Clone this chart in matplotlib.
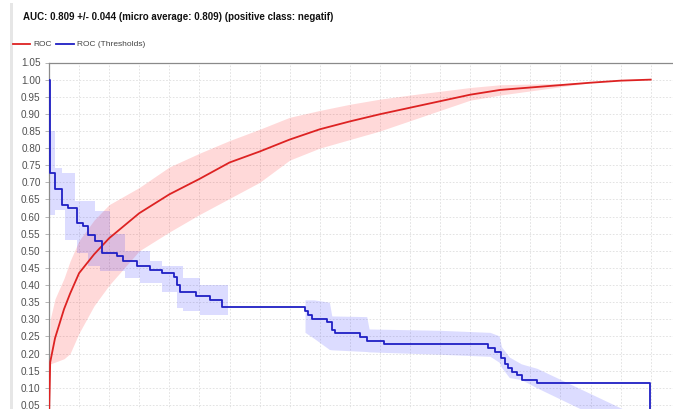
import numpy as np
import matplotlib
matplotlib.use("Agg")
import matplotlib.pyplot as plt
from matplotlib.patches import Rectangle

# ---- data ----
title = "AUC: 0.809 +/- 0.044 (micro average: 0.809) (positive class: negatif)"
legend_labels = ["ROC", "ROC (Thresholds)"]

roc_x = [0, 0.002, 0.01, 0.025, 0.035, 0.05, 0.075, 0.1, 0.15, 0.2, 0.25, 0.3, 0.35,
         0.4, 0.45, 0.5, 0.55, 0.6, 0.65, 0.7, 0.75, 0.8, 0.85, 0.9, 0.95, 1.0]
roc_y = [0, 0.175, 0.245, 0.33, 0.375, 0.435, 0.49, 0.537, 0.61, 0.665, 0.71, 0.758, 0.79,
         0.825, 0.855, 0.878, 0.899, 0.918, 0.937, 0.956, 0.97, 0.977, 0.984, 0.991, 0.997, 1.0]
roc_lo = [0, 0.17, 0.175, 0.185, 0.20, 0.26, 0.34, 0.40, 0.50, 0.555, 0.606, 0.653, 0.70,
          0.765, 0.80, 0.825, 0.85, 0.88, 0.91, 0.94, 0.955, 0.967, 0.979, 0.991, 0.997, 1.0]
roc_hi = [0, 0.30, 0.36, 0.42, 0.47, 0.53, 0.59, 0.635, 0.685, 0.745, 0.785, 0.822, 0.855,
          0.89, 0.91, 0.928, 0.943, 0.955, 0.966, 0.977, 0.985, 0.987, 0.989, 0.991, 0.997, 1.0]

thr_x = [0, 0.0017, 0.010, 0.021, 0.032, 0.046, 0.057, 0.065, 0.076, 0.088, 0.113, 0.123,
         0.146, 0.168, 0.187, 0.207, 0.212, 0.218, 0.245, 0.268, 0.287, 0.4255, 0.431,
         0.437, 0.4615, 0.470, 0.475, 0.517, 0.528, 0.556, 0.730, 0.741, 0.752, 0.758,
         0.763, 0.769, 0.777, 0.786, 0.811, 0.999, 1.0]
thr_y = [1.0, 0.728, 0.681, 0.635, 0.625, 0.582, 0.572, 0.547, 0.528, 0.494, 0.484, 0.469,
         0.455, 0.445, 0.435, 0.425, 0.401, 0.381, 0.369, 0.357, 0.337, 0.323, 0.313,
         0.301, 0.291, 0.269, 0.259, 0.249, 0.238, 0.227, 0.216, 0.206, 0.186, 0.171,
         0.157, 0.147, 0.137, 0.124, 0.115, 0.0, 0.0]

# threshold band, part 1 (stepwise)
band1_x = [0.0017, 0.010, 0.021, 0.027, 0.043, 0.046, 0.065, 0.076, 0.085, 0.101, 0.126,
           0.151, 0.168, 0.188, 0.213, 0.223, 0.251, 0.298]
band1_hi = [0.85, 0.743, 0.726, 0.726, 0.645, 0.645, 0.645, 0.616, 0.616, 0.55, 0.50,
            0.499, 0.469, 0.455, 0.455, 0.42, 0.401, 0.401]
band1_lo = [0.604, 0.62, 0.62, 0.533, 0.533, 0.494, 0.455, 0.455, 0.44, 0.44, 0.42,
            0.406, 0.406, 0.381, 0.333, 0.323, 0.313, 0.313]
# threshold band, part 2 (piecewise linear)
band2_x = [0.4255, 0.440, 0.466, 0.470, 0.528, 0.532, 0.65, 0.733, 0.748, 0.752, 0.765,
           0.785, 0.811, 1.0]
band2_hi = [0.357, 0.357, 0.350, 0.310, 0.308, 0.272, 0.268, 0.262, 0.252, 0.22, 0.19,
            0.17, 0.157, 0.0]
band2_lo = [0.262, 0.245, 0.212, 0.211, 0.206, 0.205, 0.198, 0.192, 0.175, 0.16, 0.13,
            0.124, 0.10, -0.06]

yticks = [round(0.05 * i, 2) for i in range(1, 22)]
xgrid = [round(0.05 * i, 2) for i in range(1, 21)]

# ---- figure ----
W, H = 673, 409
fig = plt.figure(figsize=(W / 100, H / 100), dpi=100)
fig.patch.set_facecolor("white")

# panel border stripe on the left
fig.patches.append(Rectangle((10 / W, 0), 3 / W, 1 - 3 / H, transform=fig.transFigure,
                             facecolor="#e6e6e6", edgecolor="none"))

px_left, px_top, px_zero_y = 49, 62.5, 422.1
px_x1 = 650.7
xmax = 1.05
px_right = px_left + (px_x1 - px_left) * xmax
ax = fig.add_axes([px_left / W, 1 - px_zero_y / H, (px_right - px_left) / W,
                   (px_zero_y - px_top) / H])
ax.set_xlim(0, xmax)
ax.set_ylim(0, 1.05)

for g in xgrid:
    ax.axvline(g, color="#dedede", lw=0.6, ls=(0, (2, 2)), zorder=0)
for g in yticks:
    ax.axhline(g, color="#dedede", lw=0.6, ls=(0, (2, 2)), zorder=0)

red = "#dd2222"
blue = "#1f1fc4"
ax.fill_between(roc_x, roc_lo, roc_hi, color=(1.0, 0.0, 0.0), alpha=0.15, lw=0, zorder=1)
ax.fill_between(band1_x, band1_lo, band1_hi, step="post", color=(0.1, 0.1, 1.0),
                alpha=0.15, lw=0, zorder=1)
ax.fill_between(band2_x, band2_lo, band2_hi, color=(0.1, 0.1, 1.0), alpha=0.15, lw=0,
                zorder=1)
ax.plot(roc_x, roc_y, color=red, lw=1.3, zorder=3)
ax.plot(thr_x, thr_y, color=blue, lw=1.3, drawstyle="steps-post", zorder=3)

for s in ["bottom", "right"]:
    ax.spines[s].set_visible(False)
for s in ["left", "top"]:
    ax.spines[s].set_color("#8a8a8a")
    ax.spines[s].set_linewidth(0.9)

ax.set_xticks([])
ax.set_yticks(yticks)
ax.set_yticklabels([f"{v:.2f}" for v in yticks])
ax.tick_params(axis="y", length=3, width=0.6, color="#aaaaaa", pad=3,
               labelsize=7.2, labelcolor="#505050")
for lbl in ax.get_yticklabels():
    lbl.set_family("Liberation Sans")

fig.text(23 / W, 1 - 17 / H, title, fontsize=7.0, fontweight="bold",
         family="Liberation Sans", color="#111111", va="center", ha="left")

# legend
ly = 1 - 44 / H
fig.add_artist(plt.Line2D([13 / W, 30 / W], [ly, ly], color=red, lw=1.3,
                          transform=fig.transFigure))
fig.text(33 / W, ly, legend_labels[0], fontsize=6, family="Liberation Sans",
         color="#444444", va="center", ha="left")
fig.add_artist(plt.Line2D([56 / W, 74 / W], [ly, ly], color=blue, lw=1.3,
                          transform=fig.transFigure))
fig.text(77 / W, ly, legend_labels[1], fontsize=6, family="Liberation Sans",
         color="#444444", va="center", ha="left")

fig.savefig("out.png", dpi=100)
